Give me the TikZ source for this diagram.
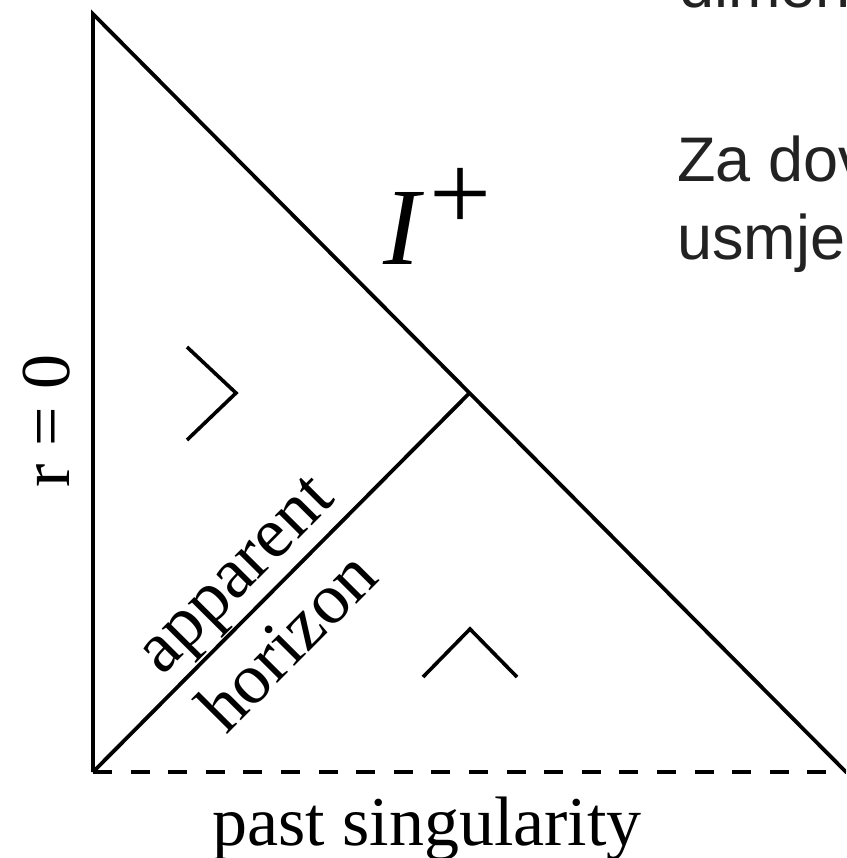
\documentclass[tikz,border=0pt]{standalone}
\usepackage{fontspec}
\setmainfont{Liberation Serif}
\newfontfamily\slidefont{Liberation Sans}
\usepackage{xcolor}
\usepackage{tikz}
\usetikzlibrary{calc}
\definecolor{penroseInk}{HTML}{000000}
\definecolor{slideInk}{HTML}{222222}
\tikzset{
  boundary/.style={
    draw=penroseInk,
    line width=3.8pt
  },
  singular/.style={
    boundary,
    line width=3.5pt,
    dash pattern=on 19pt off 18.6pt
  },
  cone/.style={
    draw=penroseInk,
    line width=3.6pt
  },
  diaglabel/.style={
    text=penroseInk,
    inner sep=1pt,
    font=\fontsize{72}{72}\selectfont
  },
  slidetext/.style={
    text=slideInk,
    anchor=base west,
    inner sep=0pt,
    font=\slidefont\fontsize{63}{63}\selectfont
  }
}

\begin{document}
\begin{tikzpicture}[x=1pt,y=-1pt]
  \useasboundingbox (0,0) rectangle (846,858);
  \clip (0,0) rectangle (846,858);
  \coordinate (origin) at (93,14);
  \coordinate (pastL) at (93,772);
  \coordinate (pastR) at (846,772);
  \coordinate (meet) at ($(origin)!0.5!(pastR)$);
  % boundary of the diagram
  \draw[boundary] (pastL) -- (origin) -- (pastR);
  \draw[singular] (pastL) -- (pastR);
  \draw[boundary] (pastL) -- node[pos=0.45,sloped,above,diaglabel] (appLbl) {apparent}
    node[pos=0.43,sloped,below=16pt,diaglabel] (horLbl) {horizon} (meet);
  % light cones
  \draw[cone] (187,347) -- (236,393) -- (187,440);
  \draw[cone] (423,677) -- (470,629) -- (517,677);
  % labels
  \node[diaglabel,rotate=90,anchor=base,font=\fontsize{70}{70}\selectfont] (rZero) at (69,421) {r = 0};
  \node[diaglabel,anchor=base,font=\fontsize{70}{70}\selectfont] (pastLbl) at (427,845) {past singularity};
  \node[anchor=base west,inner sep=0pt] (scriPlus) at (383,265)
    {\fontsize{110}{110}\selectfont\itshape I\kern10pt\raisebox{34pt}{\upshape\fontsize{110}{110}\selectfont +}};
  % slide text
  \node[slidetext] (slideA) at (679,8) {dimen};
  \node[slidetext] (slideB) at (677,182) {Za dov};
  \node[slidetext] (slideC) at (677,260) {usmjer};
\end{tikzpicture}
\end{document}
